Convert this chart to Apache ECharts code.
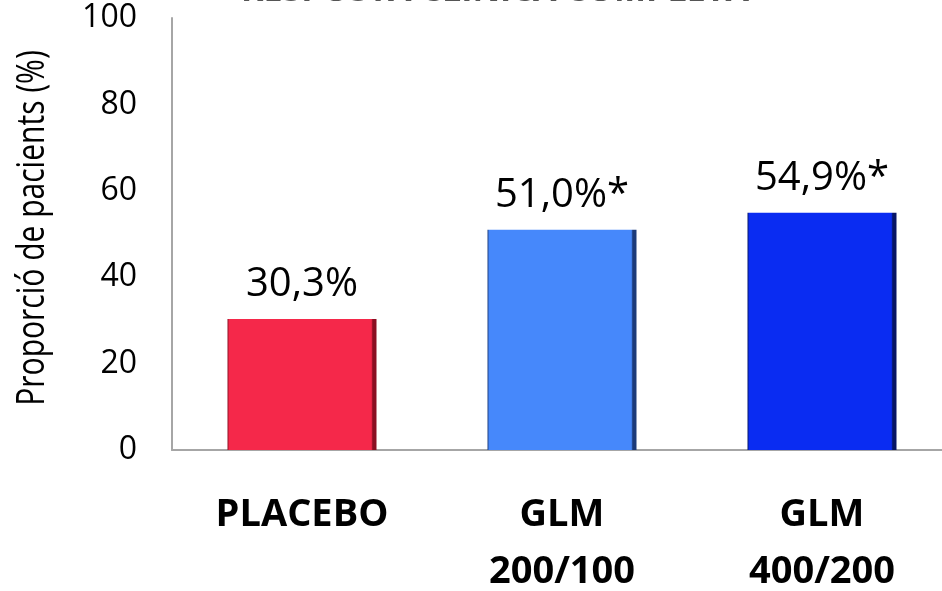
<!DOCTYPE html>
<html>
<head>
<meta charset="utf-8">
<script src="https://cdn.jsdelivr.net/npm/echarts@6/dist/echarts.min.js"></script>
<style>
  html, body { margin: 0; padding: 0; background: #ffffff; }
  #chart { width: 942px; height: 591px; }
</style>
</head>
<body>
<div id="chart"></div>
<script>
// Chart data
const categories = ['PLACEBO', 'GLM\n200/100', 'GLM\n400/200'];
const values = [30.3, 51.0, 54.9];
const valueLabels = ['30,3%', '51,0%*', '54,9%*'];
const yTicks = [0, 20, 40, 60, 80, 100];
const titleText = 'RESPOSTA CLÍNICA COMPLETA';
const yAxisTitle = 'Proporció de pacients (%)';

// Bar fills: main colour with darker bevel at the edges
const barColors = [
  { base: '#F5284A', dark: '#8A0F22' },
  { base: '#4688FB', dark: '#1B3A7A' },
  { base: '#0A2CF2', dark: '#061565' }
];

function bevel(c) {
  return new echarts.graphic.LinearGradient(0, 0, 1, 0, [
    { offset: 0, color: c.dark },
    { offset: 0.012, color: c.base },
    { offset: 0.965, color: c.base },
    { offset: 0.975, color: c.dark },
    { offset: 1, color: c.dark }
  ]);
}

const font = '"Open Sans", "Noto Sans", sans-serif';

const chart = echarts.init(document.getElementById('chart'));
chart.setOption({
  backgroundColor: '#ffffff',
  animation: false,
  title: {
    text: titleText,
    left: 236,
    top: -31,
    textStyle: { fontFamily: font, fontSize: 34, fontWeight: 'bold', color: '#555555' }
  },
  // Vertical axis title, condensed along its length
  graphic: [{
    type: 'text',
    x: 33,
    y: 228,
    rotation: Math.PI / 2,
    scaleX: 0.79,
    style: {
      text: yAxisTitle,
      fontFamily: font,
      fontSize: 38,
      fill: '#000000',
      align: 'center',
      verticalAlign: 'middle'
    }
  }],
  grid: {
    left: 172, top: 18, width: 780, height: 432,
    containLabel: false,
    outerBoundsMode: 'none'
  },
  xAxis: {
    type: 'category',
    data: categories,
    axisLine: { show: true, lineStyle: { color: '#A6A6A6', width: 2 } },
    axisTick: { show: false },
    axisLabel: {
      margin: 37,
      interval: 0,
      fontFamily: font,
      fontSize: 38,
      fontWeight: 'bold',
      color: '#000000',
      lineHeight: 57
    }
  },
  yAxis: {
    type: 'value',
    min: 0,
    max: 100,
    interval: 20,
    axisLine: { show: true, lineStyle: { color: '#A6A6A6', width: 2 } },
    axisTick: { show: false },
    splitLine: { show: false },
    axisLabel: {
      margin: 35,
      fontFamily: font,
      fontSize: 32,
      color: '#000000',
      formatter: v => (yTicks.includes(v) ? String(v) : '')
    }
  },
  series: [{
    type: 'bar',
    barWidth: 149,
    data: values.map((v, i) => ({
      value: v,
      itemStyle: { color: bevel(barColors[i]) },
      label: { formatter: valueLabels[i] }
    })),
    label: {
      show: true,
      position: 'top',
      distance: 14,
      fontFamily: font,
      fontSize: 40,
      color: '#000000'
    }
  }]
});
</script>
</body>
</html>
